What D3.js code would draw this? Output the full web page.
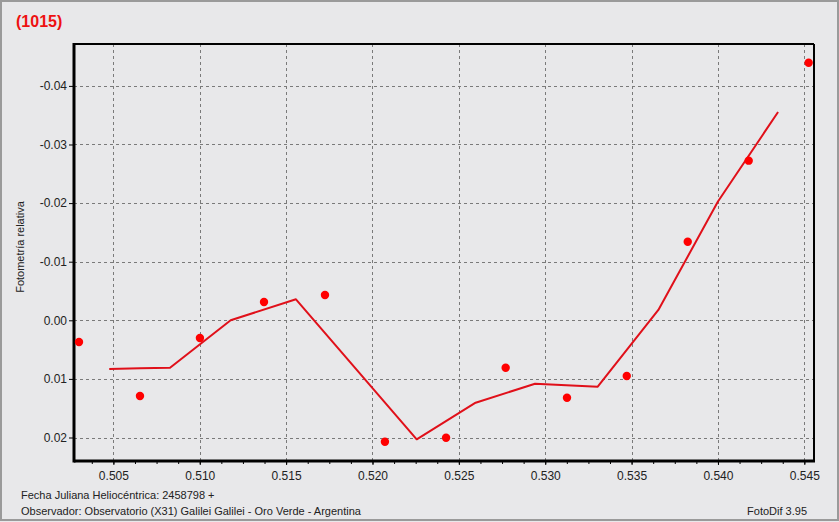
<!DOCTYPE html>
<html><head><meta charset="utf-8">
<script src="https://cdn.jsdelivr.net/npm/d3@7"></script>
<style>
html,body{margin:0;padding:0;background:#e8e8ea;}
svg{display:block;}
</style></head>
<body>
<script>
// Observations (dots)
const obsX = [0.50301,0.50654,0.51001,0.51372,0.51725,0.52072,0.52426,0.52771,0.53126,0.53472,0.53825,0.54178,0.54525];
const obsY = [0.00370,0.01292,0.00302,-0.00312,-0.00432,0.02072,0.02003,0.00809,0.01321,0.00951,-0.01341,-0.02724,-0.04396];
// Smoothed curve (line)
const lineX = [0.50476,0.50654,0.50828,0.51179,0.51557,0.52256,0.52597,0.52941,0.53304,0.53655,0.54000,0.54348];
const lineY = [0.00831,0.00819,0.00809,0.00000,-0.00358,0.02031,0.01406,0.01082,0.01133,-0.00176,-0.02027,-0.03555];
// Tick labels
const xTicks = [0.505,0.510,0.515,0.520,0.525,0.530,0.535,0.540,0.545];
const yTicks = [-0.04,-0.03,-0.02,-0.01,0.00,0.01,0.02];
const title = "(1015)";
const yTitle = "Fotometría relativa";
const footer1 = "Fecha Juliana Heliocéntrica: 2458798 +";
const footer2 = "Observador: Observatorio (X31) Galilei Galilei - Oro Verde - Argentina";
const footerRight = "FotoDif 3.95";

const W = 839, H = 522;
const L = 74, T = 44, R = 814, B = 461;
const svg = d3.select("body").append("svg").attr("width", W).attr("height", H);

svg.append("rect").attr("x",0).attr("y",0).attr("width",W).attr("height",H).attr("fill","#e8e8ea");
svg.append("rect").attr("x",1).attr("y",1).attr("width",W-2).attr("height",H-3)
  .attr("fill","none").attr("stroke","#9a9a9a").attr("stroke-width",2);

const x = d3.scaleLinear().domain([0.50272,0.54556]).range([L,R]);
const y = d3.scaleLinear().domain([-0.04715,0.02401]).range([T,B]);

// grid
const g = svg.append("g");
g.selectAll("line.gx").data(xTicks).join("line")
  .attr("x1",d=>Math.round(x(d))+0.5).attr("x2",d=>Math.round(x(d))+0.5)
  .attr("y1",T).attr("y2",B).attr("stroke","#7a7a7a").attr("stroke-width",1).attr("stroke-dasharray","3,3");
g.selectAll("line.gy").data(yTicks).join("line")
  .attr("y1",d=>Math.round(y(d))+0.5).attr("y2",d=>Math.round(y(d))+0.5)
  .attr("x1",L).attr("x2",R).attr("stroke","#7a7a7a").attr("stroke-width",1).attr("stroke-dasharray","3,3");

// frame
svg.append("line").attr("x1",L).attr("x2",R).attr("y1",T).attr("y2",T).attr("stroke","#000").attr("stroke-width",2);
svg.append("line").attr("x1",R).attr("x2",R).attr("y1",T).attr("y2",B).attr("stroke","#000").attr("stroke-width",2);

// axes
const xMinor = d3.range(0.50375,0.5456,0.00125);
const xAxisMinor = d3.axisBottom(x).tickValues(xMinor).tickSize(3).tickFormat("");
const gxm = svg.append("g").attr("transform",`translate(0,${B})`).call(xAxisMinor);
gxm.select(".domain").remove();
gxm.selectAll("line").attr("stroke","#000");

const xAxis = d3.axisBottom(x).tickValues(xTicks).tickSize(4).tickPadding(6).tickFormat(d3.format(".3f"));
const gx = svg.append("g").attr("transform",`translate(0,${B})`).call(xAxis);
gx.select(".domain").remove();
gx.selectAll("text").attr("font-family","Liberation Sans, Arial, sans-serif").attr("font-size",12).attr("fill","#222");

const yFmt = d => d3.format(".2f")(d).replace("\u2212","-");
const yAxis = d3.axisLeft(y).tickValues(yTicks).tickSize(5).tickPadding(2).tickFormat(yFmt);
const gy = svg.append("g").attr("transform",`translate(${L},0)`).call(yAxis);
gy.select(".domain").remove();
gy.selectAll("text").attr("font-family","Liberation Sans, Arial, sans-serif").attr("font-size",12).attr("fill","#222");

svg.append("line").attr("x1",L).attr("x2",L).attr("y1",T-1).attr("y2",B+1.5).attr("stroke","#000").attr("stroke-width",3);
svg.append("line").attr("x1",L).attr("x2",R+1).attr("y1",B).attr("y2",B).attr("stroke","#000").attr("stroke-width",3);

// line
const pts = lineX.map((v,i)=>[x(v), y(lineY[i])]);
svg.append("path").attr("d", d3.line()(pts)).attr("fill","none")
  .attr("stroke","#e0101a").attr("stroke-width",2).attr("stroke-linejoin","round");

// dots
svg.selectAll("circle.o").data(obsX).join("circle")
  .attr("cx",d=>x(d)).attr("cy",(d,i)=>y(obsY[i])).attr("r",4.2).attr("fill","#ff0000");

// texts
svg.append("text").attr("x",16).attr("y",27).text(title)
  .attr("font-family","Liberation Sans, Arial, sans-serif").attr("font-weight","bold").attr("font-size",16).attr("fill","#ee1111");
svg.append("text").attr("transform","translate(24,247) rotate(-90)").attr("text-anchor","middle").text(yTitle)
  .attr("font-family","Liberation Sans, Arial, sans-serif").attr("font-size",11).attr("fill","#222");
const ff = "Liberation Sans, Arial, sans-serif";
svg.append("text").attr("x",21).attr("y",499).text(footer1).attr("font-family",ff).attr("font-size",11).attr("fill","#222");
svg.append("text").attr("x",21).attr("y",515).text(footer2).attr("font-family",ff).attr("font-size",11).attr("fill","#222");
svg.append("text").attr("x",807).attr("y",515).attr("text-anchor","end").text(footerRight).attr("font-family",ff).attr("font-size",11).attr("fill","#222");
</script>
</body></html>
